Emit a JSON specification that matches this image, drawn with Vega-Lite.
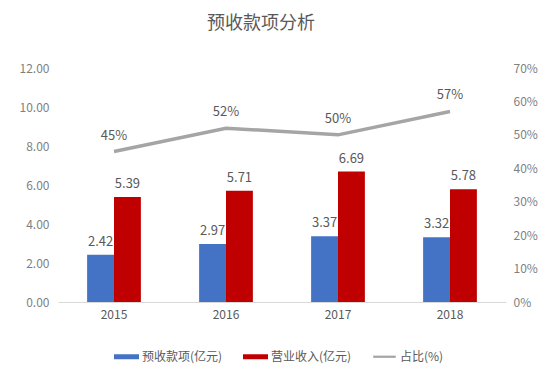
{
  "$schema": "https://vega.github.io/schema/vega-lite/v6.json",
  "width": 448,
  "height": 234,
  "autosize": "none",
  "padding": {"left": 58, "top": 68, "right": 44, "bottom": 83},
  "background": "white",
  "title": {
    "text": "预收款项分析",
    "anchor": "middle",
    "dx": -21,
    "offset": 29,
    "fontSize": 18,
    "fontWeight": "normal",
    "color": "#595959",
    "font": "Noto Sans CJK SC"
  },
  "datasets": {
    "bars": [
      {"year": "2015", "series": "预收款项(亿元)", "value": 2.42},
      {"year": "2015", "series": "营业收入(亿元)", "value": 5.39},
      {"year": "2016", "series": "预收款项(亿元)", "value": 2.97},
      {"year": "2016", "series": "营业收入(亿元)", "value": 5.71},
      {"year": "2017", "series": "预收款项(亿元)", "value": 3.37},
      {"year": "2017", "series": "营业收入(亿元)", "value": 6.69},
      {"year": "2018", "series": "预收款项(亿元)", "value": 3.32},
      {"year": "2018", "series": "营业收入(亿元)", "value": 5.78}
    ],
    "ratio": [
      {"year": "2015", "pct": 0.45},
      {"year": "2016", "pct": 0.52},
      {"year": "2017", "pct": 0.50},
      {"year": "2018", "pct": 0.57}
    ]
  },
  "layer": [
    {
      "data": {"name": "bars"},
      "encoding": {
        "x": {
          "field": "year", "type": "nominal",
          "scale": {"paddingInner": 0.52, "paddingOuter": 0.26},
          "axis": {
            "title": null, "labelAngle": 0, "ticks": false,
            "domainColor": "#d9d9d9", "domainWidth": 1,
            "labelColor": "#595959", "labelFontSize": 12, "labelPadding": 7
          }
        },
        "xOffset": {
          "field": "series", "type": "nominal",
          "scale": {"domain": ["预收款项(亿元)", "营业收入(亿元)"], "paddingInner": 0, "paddingOuter": 0}
        },
        "y": {
          "field": "value", "type": "quantitative",
          "scale": {"domain": [0, 12], "nice": false},
          "axis": {
            "title": null, "values": [0, 2, 4, 6, 8, 10, 12], "format": ".2f",
            "grid": false, "domain": false, "ticks": false,
            "labelColor": "#7f7f7f", "labelFontSize": 12, "labelPadding": 9
          }
        }
      },
      "layer": [
        {
          "mark": {"type": "bar"},
          "encoding": {
            "color": {
              "field": "series", "type": "nominal",
              "scale": {
                "domain": ["预收款项(亿元)", "营业收入(亿元)", "占比(%)"],
                "range": ["#4472C4", "#C00000", "#A5A5A5"]
              },
              "legend": {
                "title": null,
                "orient": "none",
                "legendX": 56,
                "legendY": 276,
                "direction": "horizontal",
                "labelFontSize": 12,
                "labelColor": "#595959",
                "labelOffset": 3,
                "columnPadding": 20,
                "symbolSize": 625,
                "encode": {
                  "symbols": {
                    "update": {
                      "shape": {"signal": "datum.value === '占比(%)' ? 'M-0.9,-0.09H0.9V0.09H-0.9Z' : 'M-1,-0.2H1V0.2H-1Z'"},
                      "strokeWidth": {"value": 0}
                    }
                  }
                }
              }
            }
          }
        },
        {
          "mark": {"type": "text", "baseline": "bottom", "dy": -6, "fontSize": 13, "color": "#595959"},
          "encoding": {
            "text": {"field": "value", "type": "quantitative", "format": ".2f"}
          }
        }
      ]
    },
    {
      "data": {"name": "ratio"},
      "encoding": {
        "x": {"field": "year", "type": "nominal"},
        "y": {
          "field": "pct", "type": "quantitative",
          "scale": {"domain": [0, 0.7], "nice": false},
          "axis": {
            "title": null, "orient": "right", "values": [0, 0.1, 0.2, 0.3, 0.4, 0.5, 0.6, 0.7],
            "format": ".0%", "grid": false, "domain": false, "ticks": false,
            "labelColor": "#7f7f7f", "labelFontSize": 12, "labelPadding": 7
          }
        }
      },
      "layer": [
        {
          "mark": {"type": "line", "color": "#A5A5A5", "strokeWidth": 3.5}
        },
        {
          "mark": {"type": "text", "baseline": "bottom", "dy": -9, "fontSize": 13, "color": "#595959"},
          "encoding": {
            "text": {"field": "pct", "type": "quantitative", "format": ".0%"}
          }
        }
      ]
    }
  ],
  "resolve": {"scale": {"y": "independent"}},
  "config": {
    "font": "Noto Sans CJK SC",
    "view": {"stroke": null}
  }
}
